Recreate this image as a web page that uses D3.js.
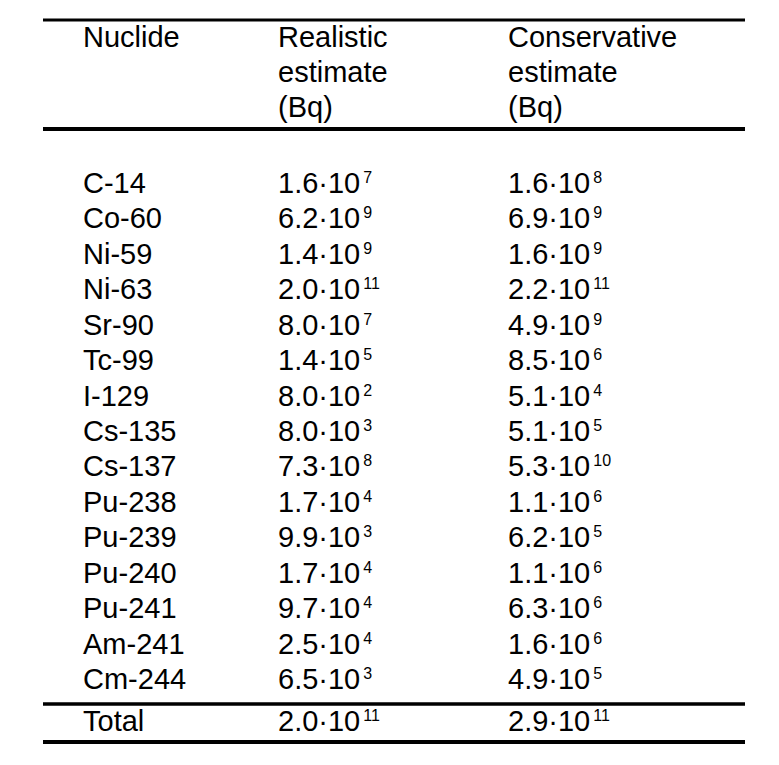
<!DOCTYPE html>
<html>
<head>
<meta charset="utf-8">
<script src="https://cdn.jsdelivr.net/npm/d3@7"></script>
<style>
  html, body { margin: 0; padding: 0; background: #fff; }
  svg { display: block; }
  text { font-family: "Liberation Sans", Arial, sans-serif; fill: #000; }
</style>
</head>
<body>
<div id="chart"></div>
<script>
// ---- data ----
const headers = [
  ["Nuclide"],
  ["Realistic", "estimate", "(Bq)"],
  ["Conservative", "estimate", "(Bq)"]
];
const nuclides = ["C-14","Co-60","Ni-59","Ni-63","Sr-90","Tc-99","I-129","Cs-135","Cs-137",
                  "Pu-238","Pu-239","Pu-240","Pu-241","Am-241","Cm-244"];
const realisticMantissa = ["1.6","6.2","1.4","2.0","8.0","1.4","8.0","8.0","7.3","1.7","9.9","1.7","9.7","2.5","6.5"];
const realisticExponent = [7, 9, 9, 11, 7, 5, 2, 3, 8, 4, 3, 4, 4, 4, 3];
const conservativeMantissa = ["1.6","6.9","1.6","2.2","4.9","8.5","5.1","5.1","5.3","1.1","6.2","1.1","6.3","1.6","4.9"];
const conservativeExponent = [8, 9, 9, 11, 9, 6, 4, 5, 10, 6, 5, 6, 6, 6, 5];
const totalLabel = "Total";
const totalRealistic = ["2.0", 11];
const totalConservative = ["2.9", 11];

// ---- layout ----
const W = 779, H = 765;
const svg = d3.select("#chart").append("svg").attr("width", W).attr("height", H);
svg.append("rect").attr("width", W).attr("height", H).attr("fill", "#fff");

const fontSize = 29, supSize = 16;
const colX = d3.scaleOrdinal().domain([0, 1, 2]).range([83, 278, 508]);
const rowY = d3.scalePoint().domain(nuclides).range([193, 689]);
const headY = d3.scaleLinear().domain([0, 2]).range([47, 117]);
const lineX0 = 43, lineX1 = 745;

// rules
const rules = [
  { y: 20, w: 3 },
  { y: 129, w: 4 },
  { y: 704, w: 3.5 },
  { y: 742, w: 4 }
];
svg.selectAll("line.rule").data(rules).join("line")
  .attr("class", "rule")
  .attr("x1", lineX0).attr("x2", lineX1)
  .attr("y1", d => d.y).attr("y2", d => d.y)
  .attr("stroke", "#000").attr("stroke-width", d => d.w);

// headers
headers.forEach((lines, c) => {
  svg.selectAll(null).data(lines).join("text")
    .attr("x", colX(c)).attr("y", (d, i) => headY(i))
    .attr("font-size", fontSize)
    .text(d => d);
});

// value cell writer
function sci(sel, mant, exp) {
  sel.append("tspan").text(mant + "\u00B710");
  sel.append("tspan").attr("dx", 3).attr("dy", -10).attr("font-size", supSize).text(exp);
}

// rows
nuclides.forEach((n, i) => {
  const y = rowY(n);
  svg.append("text").attr("x", colX(0)).attr("y", y).attr("font-size", fontSize).text(n);
  svg.append("text").attr("x", colX(1)).attr("y", y).attr("font-size", fontSize)
    .call(sci, realisticMantissa[i], realisticExponent[i]);
  svg.append("text").attr("x", colX(2)).attr("y", y).attr("font-size", fontSize)
    .call(sci, conservativeMantissa[i], conservativeExponent[i]);
});

// total
const yT = 731;
svg.append("text").attr("x", colX(0)).attr("y", yT).attr("font-size", fontSize).text(totalLabel);
svg.append("text").attr("x", colX(1)).attr("y", yT).attr("font-size", fontSize)
  .call(sci, totalRealistic[0], totalRealistic[1]);
svg.append("text").attr("x", colX(2)).attr("y", yT).attr("font-size", fontSize)
  .call(sci, totalConservative[0], totalConservative[1]);
</script>
</body>
</html>
